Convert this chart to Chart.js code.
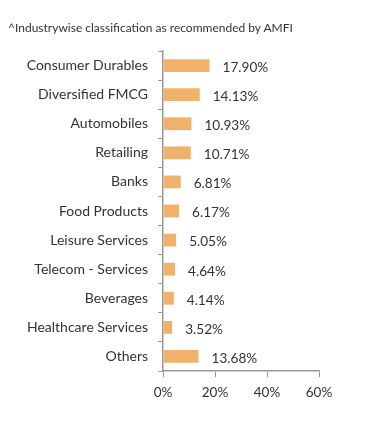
<!DOCTYPE html>
<html>
<head>
<meta charset="utf-8">
<script src="https://cdn.jsdelivr.net/npm/chart.js@4"></script>
<style>
  html, body { margin: 0; padding: 0; background: #fff; }
  #wrap { position: relative; width: 391px; height: 434px; }
  #note { position: absolute; left: 8px; top: 20px; font: 12px Lato, sans-serif; color: #333; }
</style>
</head>
<body>
<div id="wrap">
  <div id="note">^Industrywise classification as recommended by AMFI</div>
  <canvas id="barChart" width="391" height="434"></canvas>
</div>
<script>
  // industry allocation (%)
  var industries = ["Consumer Durables", "Diversified FMCG", "Automobiles", "Retailing", "Banks",
    "Food Products", "Leisure Services", "Telecom - Services", "Beverages", "Healthcare Services", "Others"];
  var weights = [17.90, 14.13, 10.93, 10.71, 6.81, 6.17, 5.05, 4.64, 4.14, 3.52, 13.68];
  var xTicks = [0, 20, 40, 60];

  var barLabels = {
    id: 'barLabels',
    afterDatasetsDraw: function(chart) {
      var ctx = chart.ctx;
      var meta = chart.getDatasetMeta(0);
      ctx.save();
      ctx.font = '13.6px Lato, sans-serif';
      ctx.fillStyle = '#333';
      ctx.textBaseline = 'middle';
      meta.data.forEach(function(bar, i) {
        ctx.fillText(weights[i].toFixed(2) + '%', bar.x + 13, bar.y + 2);
      });
      ctx.restore();
    }
  };

  var ctxB = document.getElementById("barChart").getContext('2d');
  var myBarChart = new Chart(ctxB, {
    type: 'bar',
    data: {
      labels: industries,
      datasets: [{
        data: weights,
        backgroundColor: "#F0B26B",
        barPercentage: 0.44,
        categoryPercentage: 1
      }]
    },
    options: {
      indexAxis: 'y',
      responsive: false,
      animation: false,
      layout: { padding: { top: 51, left: 8, right: 72, bottom: 0 } },
      plugins: { legend: { display: false }, tooltip: { enabled: false } },
      scales: {
        y: {
          grid: { drawOnChartArea: false, tickLength: 5, color: '#999' },
          border: { color: '#999', width: 1.5 },
          ticks: { color: '#333', font: { family: 'Lato', size: 14 }, padding: 10 },
          afterFit: function(s) { s.width = 155; }
        },
        x: {
          min: 0, max: 60,
          grid: { drawOnChartArea: false, tickLength: 6, color: '#999' },
          border: { color: '#999', width: 1.5 },
          afterBuildTicks: function(s) { s.ticks = xTicks.map(function(v) { return { value: v }; }); },
          ticks: { color: '#333', font: { family: 'Lato', size: 13.5 }, padding: 8,
            callback: function(v) { return v + '%'; } },
          afterFit: function(s) { s.height = 63; }
        }
      }
    },
    plugins: [barLabels]
  });
</script>
</body>
</html>
